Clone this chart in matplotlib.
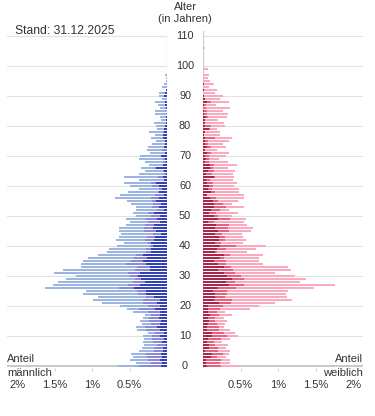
import matplotlib
matplotlib.use("Agg")
import matplotlib.pyplot as plt
import matplotlib.transforms as mtransforms
import numpy as np

plt.rcParams['font.family'] = ['Liberation Sans', 'DejaVu Sans']

ages = list(range(0, 111))

# male shares in % (dark / mid / light segment), ages 0..110
male_dark = [.08, .07, .09, .07, .08, .05, .05, .01, .07, .04,
             .09, .04, .09, .13, .09, .08, .11, .09, .09, .16,
             .09, .13, .09, .17, .28, .28, .44, .36, .29, .35,
             .39, .36, .23, .23, .28, .32, .27, .32, .21, .21,
             .19, .21, .17, .16, .08, .15, .19, .17, .09, .13,
             .09, .17, .04, .11, .08, .15, .11, .04, .11, .07,
             .11, .15, .04, .05, .01, .04, .15, .05, .01, .03,
             .08, .03, 0, .04, .03, .03, .05, .05, .04, .04,
             .03, .01, .01, .01, 0, 0, .01, .03, .03, 0,
             .04, .03, .01, 0, 0, 0, 0, 0, 0, 0,
             0, 0, 0, 0, 0, 0, 0, 0, 0, 0, 0]
male_mid = [.29, .15, .17, .20, .20, .13, .13, .13, .12, .16,
            .11, .12, .19, .16, .13, .16, .13, .12, .16, .21,
            .17, .19, .23, .11, .11, .12, .20, .16, .16, .08,
            .11, .16, .20, .17, .27, .16, .17, .09, .07, .07,
            .04, .04, .12, .11, .11, .16, .12, .13, .16, .15,
            .12, .08, .09, .09, .11, .05, .11, .12, .01, .04,
            .09, .07, 0, .07, .03, .01, .01, 0, .05, .03,
            0, 0, .07, 0, 0, 0, 0, 0, .01, 0,
            0, 0, 0, 0, 0, 0, 0, 0, 0, 0,
            0, 0, 0, 0, 0, 0, 0, 0, 0, 0,
            0, 0, 0, 0, 0, 0, 0, 0, 0, 0, 0]
male_light = [.28, .19, .23, .19, .20, .19, .15, .17, .13, .11,
              .12, .09, .12, .12, .11, .12, .08, .09, .20, .17,
              .37, .55, .67, .64, .73, .68, .99, 1.00, 1.01, .92,
              .72, .99, .96, .75, .60, .64, .61, .51, .52, .49,
              .44, .32, .39, .37, .43, .33, .33, .25, .24, .27,
              .21, .21, .29, .21, .29, .33, .47, .47, .40, .27,
              .29, .35, .33, .45, .33, .25, .19, .19, .23, .31,
              .28, .20, .20, .21, .17, .12, .17, .11, .19, .09,
              .12, .17, .07, .09, .16, .16, .08, .09, .13, .07,
              .07, .08, 0, .07, .04, .01, .01, .03, 0, 0,
              0, 0, 0, 0, 0, 0, 0, 0, 0, 0, 0]

# female shares in % (dark / mid / light segment), ages 0..110
female_dark = [.05, .04, .04, .11, .12, .03, .08, .08, .05, .07,
               .12, .12, .05, .05, .07, .08, .07, .09, .07, .07,
               .07, .21, .15, .16, .16, .13, .20, .35, .31, .39,
               .32, .28, .20, .28, .20, .15, .23, .28, .16, .19,
               .23, .16, .21, .21, .16, .20, .16, .17, .07, .20,
               .15, .08, .11, .15, .15, .13, .09, .05, .11, .07,
               .08, .05, .04, .15, .04, .07, .09, .09, .03, .04,
               .03, .05, .03, .05, .03, .03, .03, .01, .03, .08,
               .03, .03, .03, .04, .01, .01, 0, .01, .05, .03,
               .01, 0, .01, 0, .01, 0, 0, 0, 0, 0,
               0, 0, 0, 0, 0, 0, 0, 0, 0, 0, 0]
female_mid = [.19, .19, .20, .08, .15, .17, .12, .08, .09, .17,
              .20, .16, .16, .16, .11, .08, .09, .12, .11, .15,
              .19, .16, .23, .13, .16, .19, .24, .20, .11, .15,
              .19, .15, .20, .09, .11, .16, .05, .08, .03, .12,
              .21, .08, .08, .08, .09, .15, .17, .17, .08, .16,
              .05, .09, .11, .16, .12, .07, .08, 0, .05, .05,
              .05, .08, .05, .01, .08, .08, .04, .05, .05, .04,
              .05, .05, 0, .05, .03, .04, .13, 0, 0, .01,
              .07, 0, 0, .03, .04, .04, .04, .03, .05, 0,
              0, 0, 0, 0, 0, 0, 0, 0, 0, 0,
              0, 0, 0, 0, 0, 0, 0, 0, 0, 0, 0]
female_light = [.23, .13, .12, .12, .07, .16, .11, .17, .11, .12,
                .15, .15, .15, .07, .11, .16, .12, .17, .11, .40,
                .48, .59, .81, .83, .79, .81, 1.04, 1.21, .87, .83,
                .72, .53, .77, .76, .49, .44, .47, .44, .39, .40,
                .40, .29, .28, .24, .27, .29, .33, .25, .40, .21,
                .19, .29, .13, .24, .12, .27, .37, .49, .32, .36,
                .28, .32, .31, .25, .28, .28, .20, .31, .25, .13,
                .23, .25, .15, .21, .21, .27, .23, .21, .20, .09,
                .19, .25, .17, .25, .28, .21, .32, .13, .25, .20,
                .25, .16, .17, .08, .13, .09, .07, .08, .01, .07,
                0, 0, 0, 0, 0, 0, .02, 0, 0, 0, 0]

age_ticks = list(range(0, 111, 10))
share_ticks = [0.5, 1.0, 1.5, 2.0]
share_labels = ["0.5%", "1%", "1.5%", "2%"]

male_colors = ['#3242b6', '#8b87d9', '#9db6e1']
female_colors = ['#a9264b', '#e8617f', '#f9aabe']

W, H = 375, 416
fig = plt.figure(figsize=(W / 100, H / 100), dpi=100)
ax_bottom = 368
ax_top = 31
ax_h = (ax_bottom - ax_top) / H
axL = fig.add_axes([7 / W, (H - ax_bottom) / H, 160 / W, ax_h])
axR = fig.add_axes([203 / W, (H - ax_bottom) / H, 160 / W, ax_h])

xmax = 160 / 75.0
ymin, ymax = -0.67, 111.67

a = np.array(ages)
bh = 0.68
for ax, segs, cols in [(axL, (male_dark, male_mid, male_light), male_colors),
                       (axR, (female_dark, female_mid, female_light), female_colors)]:
    left = np.zeros(len(ages))
    for vals, c in zip(segs, cols):
        v = np.array(vals)
        ax.barh(a, v, left=left, height=bh, color=c, linewidth=0, zorder=2)
        left = left + v
    for t in age_ticks[1:]:
        ax.axhline(t, color='#e2e2e2', lw=0.8, zorder=0)
    ax.axhline(0, color='#c4c4c4', lw=1.3, zorder=1)
    ax.axvline(0, color='#cfcfcf', lw=0.9, zorder=1)
    ax.set_ylim(ymin, ymax)
    ax.set_yticks([])
    for s in ax.spines.values():
        s.set_visible(False)
    ax.set_xticks(share_ticks)
    ax.set_xticklabels(share_labels)
    ax.tick_params(axis='x', length=2.5, width=0.7, color='#d0d0d0', pad=6,
                   labelsize=8, labelcolor='#333333')
    ax.patch.set_alpha(0)

axL.set_xlim(xmax, 0)
axR.set_xlim(0, xmax)

trans = mtransforms.blended_transform_factory(fig.transFigure, axL.transData)
for t in age_ticks:
    fig.text(185 / W, t, str(t), transform=trans, ha='center', va='center',
             fontsize=7.8, color='#333333')

def fy(px):
    return 1 - px / H

tc = '#333333'
fig.text(185 / W, fy(7), "Alter", ha='center', va='center', fontsize=8, color=tc)
fig.text(185 / W, fy(19.5), "(in Jahren)", ha='center', va='center', fontsize=8, color=tc)
fig.text(15 / W, fy(31), "Stand: 31.12.2025", ha='left', va='center', fontsize=8.7, color=tc)
fig.text(7 / W, fy(358.5), "Anteil", ha='left', va='center', fontsize=8, color=tc)
fig.text(7 / W, fy(372.5), "männlich", ha='left', va='center', fontsize=8, color=tc)
fig.text(363 / W, fy(358.5), "Anteil", ha='right', va='center', fontsize=8, color=tc)
fig.text(363 / W, fy(372.5), "weiblich", ha='right', va='center', fontsize=8, color=tc)

fig.savefig("out.png", dpi=100)
